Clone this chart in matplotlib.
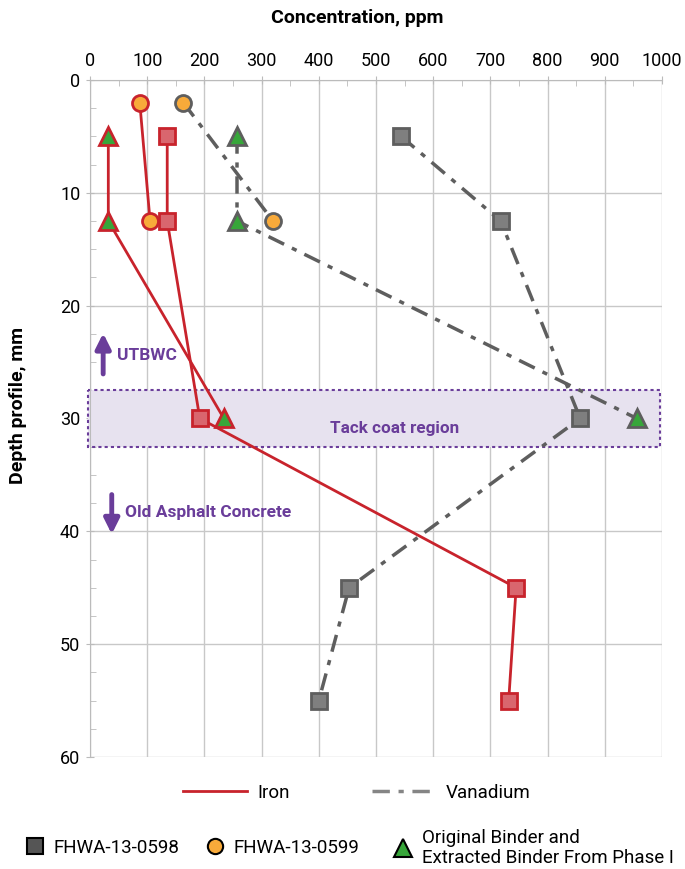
import matplotlib.pyplot as plt
from matplotlib.lines import Line2D
from matplotlib.patches import Rectangle

plt.rcParams['font.family'] = ['Roboto', 'DejaVu Sans']

# depth (mm) and concentration (ppm)
iron_0598_depth = [5, 12.5, 30, 45, 55]
iron_0598_ppm = [135, 135, 192, 745, 732]
iron_0599_depth = [2, 12.5]
iron_0599_ppm = [87, 105]
iron_orig_depth = [5, 12.5, 30]
iron_orig_ppm = [32, 32, 234]

van_0598_depth = [5, 12.5, 30, 45, 55]
van_0598_ppm = [544, 718, 857, 453, 400]
van_0599_depth = [2, 12.5]
van_0599_ppm = [163, 320]
van_orig_depth = [5, 12.5, 30]
van_orig_ppm = [257, 257, 956]

tack_top, tack_bottom = 27.5, 32.5

red = '#C8232C'
red_fill = '#D9666E'
gray = '#5E5E5E'
gray_fill = '#7F7F7F'
orange = '#F8AA3A'
green = '#37A63A'
purple = '#6A3D9A'

fig = plt.figure(figsize=(6.85, 8.69), dpi=100)
ax = fig.add_axes([0.1314, 0.1289, 0.835, 0.7791])

ax.add_patch(Rectangle((-3, tack_top), 1000, tack_bottom - tack_top,
                       facecolor='#E7E2EF', edgecolor=purple, linestyle=(0, (1.5, 1.5)),
                       linewidth=1.5, zorder=1, clip_on=False))
ax.text(533, 30.9, 'Tack coat region', color=purple, fontsize=12.3,
        fontweight='bold', ha='center', va='center', zorder=2)

sq = dict(marker='s', markersize=11, markeredgewidth=2)
ci = dict(marker='o', markersize=11.5, markeredgewidth=2)
tr = dict(marker='^', markersize=13, markeredgewidth=2)

ax.plot(iron_0598_ppm, iron_0598_depth, color=red, lw=2, mfc=red_fill, mec=red, zorder=4, **sq)
ax.plot(iron_0599_ppm, iron_0599_depth, color=red, lw=2, mfc=orange, mec=red, zorder=4, **ci)
ax.plot(iron_orig_ppm, iron_orig_depth, color=red, lw=2, mfc=green, mec=red, zorder=4, **tr)

dd = (0, (5, 2.5, 1.5, 2.5))
ax.plot(van_0598_ppm, van_0598_depth, color=gray, lw=2.5, ls=dd, mfc=gray_fill, mec=gray, zorder=3, **sq)
ax.plot(van_0599_ppm, van_0599_depth, color=gray, lw=2.5, ls=dd, mfc=orange, mec=gray, zorder=3, **ci)
ax.plot(van_orig_ppm, van_orig_depth, color=gray, lw=2.5, ls=dd, mfc=green, mec=gray, zorder=3, **tr)

# layer annotations
arr = dict(arrowstyle='-|>,head_width=0.45,head_length=0.9', color=purple, lw=3.5)
ax.annotate('', xy=(23, 22.2), xytext=(23, 26.3), arrowprops=arr)
ax.text(48, 24.4, 'UTBWC', color=purple, fontsize=12.5, fontweight='bold', va='center')
ax.annotate('', xy=(38, 40.5), xytext=(38, 36.5), arrowprops=arr)
ax.text(62, 38.3, 'Old Asphalt Concrete', color=purple, fontsize=12.5, fontweight='bold', va='center')

ax.set_xlim(0, 1000)
ax.set_ylim(60, 0)
ax.xaxis.tick_top()
ax.set_xticks(range(0, 1001, 100))
ax.set_xticks(range(50, 1000, 100), minor=True)
ax.set_yticks(range(0, 61, 10))
ax.set_yticks([2.5 + 2.5 * i for i in range(24) if (2.5 + 2.5 * i) % 10], minor=True)
ax.grid(True, which='major', color='#C8C8C8', lw=1)
ax.set_axisbelow(True)
ax.tick_params(which='major', length=6, color='#BBBBBB', labelsize=13, pad=4, direction='inout')
ax.tick_params(which='minor', length=4, color='#BBBBBB', direction='in')
for s in ['top', 'left']:
    ax.spines[s].set_color('#BBBBBB')
for s in ['right', 'bottom']:
    ax.spines[s].set_visible(False)

fig.text(0.521, 0.979, 'Concentration, ppm', fontsize=14, fontweight='bold',
         ha='center', va='center')
fig.text(0.027, 0.533, 'Depth profile, mm', fontsize=14, fontweight='bold',
         ha='center', va='center', rotation=90)

# legends, one entry each so they can sit where the reference has them
leg_kw = dict(frameon=False, fontsize=13.5, borderpad=0, borderaxespad=0, loc='center left')

line_items = [(Line2D([], [], color=red, lw=2), 'Iron', 0.2672),
              (Line2D([], [], color='#858585', lw=2.5, ls=dd), 'Vanadium', 0.543)]
for h, lab, x0 in line_items:
    fig.legend([h], [lab], bbox_to_anchor=(x0, 0.0875), handlelength=3.41,
               handletextpad=0.55, **leg_kw)

mk_items = [(Line2D([], [], ls='none', marker='s', ms=11, mfc='#555555', mec='black', mew=1.5),
             'FHWA-13-0598', 0.0374),
            (Line2D([], [], ls='none', marker='o', ms=11, mfc=orange, mec='black', mew=1.5),
             'FHWA-13-0599', 0.300),
            (Line2D([], [], ls='none', marker='^', ms=13, mfc=green, mec='black', mew=1.5),
             'Original Binder and\nExtracted Binder From Phase I', 0.5746)]
for h, lab, x0 in mk_items:
    fig.legend([h], [lab], bbox_to_anchor=(x0, 0.0242), handlelength=1,
               handletextpad=0.5, **leg_kw)

fig.savefig('out.png', dpi=100)
